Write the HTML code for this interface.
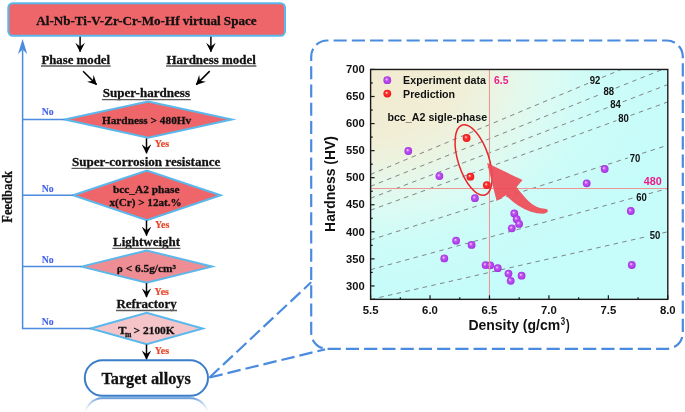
<!DOCTYPE html><html><head><meta charset="utf-8"><title>Alloy design</title><style>html,body{margin:0;padding:0;background:#fff;overflow:hidden;}svg{display:block;will-change:transform;}.sf{font-family:"Liberation Serif",serif;font-weight:bold;}.ss{font-family:"Liberation Sans",sans-serif;font-weight:bold;}</style></head><body><svg width="685" height="412" viewBox="0 0 685 412"><defs><radialGradient id="gp" cx="0.5" cy="0.5" r="0.52" fx="0.38" fy="0.36"><stop offset="0" stop-color="#fcecff"/><stop offset="0.16" stop-color="#e49cf8"/><stop offset="0.38" stop-color="#bc54f0"/><stop offset="0.8" stop-color="#ae3ce9"/><stop offset="1" stop-color="#9a2fd8"/></radialGradient><radialGradient id="gr" cx="0.5" cy="0.5" r="0.52" fx="0.38" fy="0.36"><stop offset="0" stop-color="#ffeeee"/><stop offset="0.16" stop-color="#ff9a9a"/><stop offset="0.38" stop-color="#ff3434"/><stop offset="0.8" stop-color="#f51e1e"/><stop offset="1" stop-color="#e01414"/></radialGradient><radialGradient id="bg" gradientUnits="objectBoundingBox" cx="0" cy="0" r="1" fx="0" fy="0"><stop offset="0" stop-color="#f1ebd0"/><stop offset="0.3" stop-color="#f1eed6"/><stop offset="0.41" stop-color="#ecf3e0"/><stop offset="0.51" stop-color="#e4f8ec"/><stop offset="0.62" stop-color="#dafbf3"/><stop offset="0.76" stop-color="#cdfcf8"/><stop offset="1" stop-color="#c6fcfa"/></radialGradient><marker id="ah" viewBox="0 0 9.4 9.6" refX="9.0" refY="4.8" markerWidth="9.4" markerHeight="9.6" markerUnits="userSpaceOnUse" orient="auto"><path d="M0,0 L9.4,4.8 L0,9.6 L3.7,4.8 Z" fill="#000"/></marker><linearGradient id="refl" gradientUnits="userSpaceOnUse" x1="0" y1="397.5" x2="0" y2="411"><stop offset="0" stop-color="#3a7dc9" stop-opacity="0.85"/><stop offset="0.25" stop-color="#5a95d6" stop-opacity="0.55"/><stop offset="1" stop-color="#9cc4ec" stop-opacity="0.05"/></linearGradient><clipPath id="pc"><rect x="370.6" y="69.45" width="297.19999999999993" height="229.90000000000003"/></clipPath></defs><rect x="8.3" y="3.2" width="276.7" height="32.6" rx="4.5" fill="#ef666a" stroke="#5ab8ec" stroke-width="2"/><text class="sf" x="36.3" y="24.8" font-size="13" fill="#111" stroke="#111" stroke-width="0.28" textLength="220.30" lengthAdjust="spacingAndGlyphs" >Al-Nb-Ti-V-Zr-Cr-Mo-Hf virtual Space</text><line x1="80.1" y1="36.8" x2="80.1" y2="51.8" stroke="#000" stroke-width="1.5" marker-end="url(#ah)"/><line x1="210.9" y1="36.8" x2="210.9" y2="51.8" stroke="#000" stroke-width="1.5" marker-end="url(#ah)"/><text class="sf" x="41.4" y="63.5" font-size="12.8" fill="#111" stroke="#111" stroke-width="0.28" textLength="68.60" lengthAdjust="spacingAndGlyphs" >Phase model</text><line x1="41.0" y1="66.0" x2="110.6" y2="66.0" stroke="#5a5a5a" stroke-width="1.3"/><text class="sf" x="166.4" y="63.5" font-size="12.8" fill="#111" stroke="#111" stroke-width="0.28" textLength="89.40" lengthAdjust="spacingAndGlyphs" >Hardness model</text><line x1="166.0" y1="66.0" x2="256.4" y2="66.0" stroke="#5a5a5a" stroke-width="1.3"/><line x1="83.1" y1="71.2" x2="96.6" y2="84.6" stroke="#000" stroke-width="1.5" marker-end="url(#ah)"/><line x1="209.7" y1="71.1" x2="196.2" y2="84.6" stroke="#000" stroke-width="1.5" marker-end="url(#ah)"/><text class="sf" x="102.7" y="96.8" font-size="12.8" fill="#111" stroke="#111" stroke-width="0.28" textLength="87.30" lengthAdjust="spacingAndGlyphs" >Super-hardness</text><line x1="101.9" y1="99.6" x2="190.8" y2="99.6" stroke="#5a5a5a" stroke-width="1.3"/><polygon points="64.6,119.6 148.2,101.39999999999999 231.79999999999998,119.6 148.2,137.79999999999998" fill="#ef666a" stroke="#5ab8ec" stroke-width="2" stroke-linejoin="miter" stroke-miterlimit="20"/><text class="sf" x="101.9" y="123.6" font-size="11" fill="#111" stroke="#111" stroke-width="0.28" textLength="89.40" lengthAdjust="spacingAndGlyphs" >Hardness &gt; 480Hv</text><line x1="146.5" y1="138.4" x2="146.5" y2="153.3" stroke="#000" stroke-width="1.5" marker-end="url(#ah)"/><text class="sf" x="154.7" y="146.5" font-size="10" fill="#ea3f22" stroke="#ea3f22" stroke-width="0.15" textLength="14.30" lengthAdjust="spacingAndGlyphs" >Yes</text><text class="sf" x="72.0" y="165.9" font-size="12.8" fill="#111" stroke="#111" stroke-width="0.28" textLength="148.30" lengthAdjust="spacingAndGlyphs" >Super-corrosion resistance</text><line x1="71.5" y1="168.4" x2="220.8" y2="168.4" stroke="#5a5a5a" stroke-width="1.3"/><polygon points="73.10000000000001,195.3 146.9,170.5 220.7,195.3 146.9,220.10000000000002" fill="#ef666a" stroke="#5ab8ec" stroke-width="2" stroke-linejoin="miter" stroke-miterlimit="20"/><text class="sf" x="112.9" y="193.2" font-size="11" fill="#111" stroke="#111" stroke-width="0.28" textLength="66.60" lengthAdjust="spacingAndGlyphs" >bcc_A2 phase</text><text class="sf" x="109.4" y="206.1" font-size="11" fill="#111" stroke="#111" stroke-width="0.28" textLength="72.40" lengthAdjust="spacingAndGlyphs" >x(Cr) &gt; 12at.%</text><line x1="146.5" y1="220.6" x2="146.5" y2="235.6" stroke="#000" stroke-width="1.5" marker-end="url(#ah)"/><text class="sf" x="155.0" y="227.9" font-size="10" fill="#ea3f22" stroke="#ea3f22" stroke-width="0.15" textLength="14.30" lengthAdjust="spacingAndGlyphs" >Yes</text><text class="sf" x="113.1" y="246.0" font-size="12.8" fill="#111" stroke="#111" stroke-width="0.28" textLength="66.90" lengthAdjust="spacingAndGlyphs" >Lightweight</text><line x1="112.4" y1="248.4" x2="180.4" y2="248.4" stroke="#5a5a5a" stroke-width="1.3"/><polygon points="81.39999999999999,266.6 146.7,250.50000000000003 212.0,266.6 146.7,282.70000000000005" fill="#ef8d95" stroke="#5ab8ec" stroke-width="2" stroke-linejoin="miter" stroke-miterlimit="20"/><text class="sf" x="116.8" y="272.3" font-size="11.3" fill="#111" stroke="#111" stroke-width="0.28" textLength="59.10" lengthAdjust="spacingAndGlyphs" >ρ &lt; 6.5g/cm³</text><line x1="146.5" y1="283.2" x2="146.5" y2="297.2" stroke="#000" stroke-width="1.5" marker-end="url(#ah)"/><text class="sf" x="154.6" y="294.9" font-size="10" fill="#ea3f22" stroke="#ea3f22" stroke-width="0.15" textLength="14.30" lengthAdjust="spacingAndGlyphs" >Yes</text><text class="sf" x="116.4" y="307.8" font-size="12.8" fill="#111" stroke="#111" stroke-width="0.28" textLength="60.20" lengthAdjust="spacingAndGlyphs" >Refractory</text><line x1="116.0" y1="310.5" x2="177.0" y2="310.5" stroke="#5a5a5a" stroke-width="1.3"/><polygon points="90.69999999999999,328.5 146.7,312.7 202.7,328.5 146.7,344.3" fill="#f4c4c8" stroke="#5ab8ec" stroke-width="2" stroke-linejoin="miter" stroke-miterlimit="20"/><text class="sf" x="118.2" y="333.8" font-size="11.3" fill="#111" stroke="#111" stroke-width="0.28" textLength="8.20" lengthAdjust="spacingAndGlyphs" >T</text><text class="sf" x="125.0" y="337.3" font-size="7.6" fill="#111" stroke="#111" stroke-width="0.28" textLength="6.40" lengthAdjust="spacingAndGlyphs" >m</text><text class="sf" x="133.6" y="333.8" font-size="11.3" fill="#111" stroke="#111" stroke-width="0.28" textLength="41.10" lengthAdjust="spacingAndGlyphs" >&gt; 2100K</text><line x1="146.5" y1="344.6" x2="146.5" y2="359.4" stroke="#000" stroke-width="1.5" marker-end="url(#ah)"/><text class="sf" x="154.8" y="354.2" font-size="10" fill="#ea3f22" stroke="#ea3f22" stroke-width="0.15" textLength="14.30" lengthAdjust="spacingAndGlyphs" >Yes</text><rect x="84.8" y="360.2" width="123.2" height="35.6" rx="17.8" fill="#fff" stroke="#3a7dc9" stroke-width="2"/><text class="sf" x="101.4" y="384.2" font-size="17.2" fill="#111" stroke="#111" stroke-width="0.28" textLength="89.40" lengthAdjust="spacingAndGlyphs" >Target alloys</text><path d="M84.8,416.1 A17.8,17.8 0 0 1 102.6,398.3 L190.2,398.3 A17.8,17.8 0 0 1 208,416.1" fill="none" stroke="url(#refl)" stroke-width="2"/><polyline points="90.9,328.4 22.6,328.4 22.6,50" fill="none" stroke="#4a8be0" stroke-width="1.5"/><path d="M22.6,38.9 L27.2,54.1 L22.6,49.6 L18.0,54.1 Z" fill="#4a8be0"/><line x1="22.6" y1="119.6" x2="64.6" y2="119.6" stroke="#4a8be0" stroke-width="1.5"/><line x1="22.6" y1="195.3" x2="73.1" y2="195.3" stroke="#4a8be0" stroke-width="1.5"/><line x1="22.6" y1="266.6" x2="81.4" y2="266.6" stroke="#4a8be0" stroke-width="1.5"/><text class="sf" x="41.7" y="114.9" font-size="10" fill="#4262ec" stroke="#4262ec" stroke-width="0.1" textLength="12.00" lengthAdjust="spacingAndGlyphs" >No</text><text class="sf" x="41.7" y="192.2" font-size="10" fill="#4262ec" stroke="#4262ec" stroke-width="0.1" textLength="12.00" lengthAdjust="spacingAndGlyphs" >No</text><text class="sf" x="41.7" y="263.1" font-size="10" fill="#4262ec" stroke="#4262ec" stroke-width="0.1" textLength="12.00" lengthAdjust="spacingAndGlyphs" >No</text><text class="sf" x="41.7" y="324.8" font-size="10" fill="#4262ec" stroke="#4262ec" stroke-width="0.1" textLength="12.00" lengthAdjust="spacingAndGlyphs" >No</text><text class="sf" font-size="14" fill="#111" stroke="#111" stroke-width="0.25" textLength="51.8" lengthAdjust="spacingAndGlyphs" transform="translate(11.5,222.8) rotate(-90)">Feedback</text><path d="M311.2,56.5 A16,16 0 0 1 327.2,40.5 L666.8,40.5 A16,16 0 0 1 682.8,56.5 L682.8,332.8 A16,16 0 0 1 666.8,348.8 L327.2,348.8 A16,16 0 0 1 311.2,332.8 Z" fill="none" stroke="#4a8be0" stroke-width="2.2" stroke-dasharray="13.2 5.05" stroke-dashoffset="5.17"/><line x1="209.5" y1="377.5" x2="311.2" y2="282.2" stroke="#4a8be0" stroke-width="2.2" stroke-dasharray="13.5 5"/><line x1="209.5" y1="377.5" x2="325" y2="349.4" stroke="#4a8be0" stroke-width="2.2" stroke-dasharray="13.5 5"/><rect x="370.6" y="69.45" width="297.19999999999993" height="229.90000000000003" fill="url(#bg)"/><g clip-path="url(#pc)"><line x1="370.60" y1="174.44" x2="588.08" y2="83.35" stroke="#777" stroke-width="0.9" stroke-dasharray="4.5 4.4" fill="none"/><line x1="601.92" y1="77.56" x2="621.28" y2="69.45" stroke="#777" stroke-width="0.9" stroke-dasharray="4.5 4.4" fill="none"/><line x1="370.60" y1="186.35" x2="601.84" y2="93.71" stroke="#777" stroke-width="0.9" stroke-dasharray="4.5 4.4" fill="none"/><line x1="615.76" y1="88.13" x2="662.40" y2="69.45" stroke="#777" stroke-width="0.9" stroke-dasharray="4.5 4.4" fill="none"/><line x1="370.60" y1="198.26" x2="608.59" y2="107.24" stroke="#777" stroke-width="0.9" stroke-dasharray="4.5 4.4" fill="none"/><line x1="622.61" y1="101.89" x2="667.80" y2="84.60" stroke="#777" stroke-width="0.9" stroke-dasharray="4.5 4.4" fill="none"/><line x1="370.60" y1="210.16" x2="616.45" y2="120.62" stroke="#777" stroke-width="0.9" stroke-dasharray="4.5 4.4" fill="none"/><line x1="630.55" y1="115.49" x2="667.80" y2="101.92" stroke="#777" stroke-width="0.9" stroke-dasharray="4.5 4.4" fill="none"/><line x1="370.60" y1="239.93" x2="627.85" y2="157.95" stroke="#777" stroke-width="0.9" stroke-dasharray="4.5 4.4" fill="none"/><line x1="642.15" y1="153.39" x2="667.80" y2="145.22" stroke="#777" stroke-width="0.9" stroke-dasharray="4.5 4.4" fill="none"/><line x1="370.60" y1="269.69" x2="634.27" y2="197.67" stroke="#777" stroke-width="0.9" stroke-dasharray="4.5 4.4" fill="none"/><line x1="648.73" y1="193.72" x2="667.80" y2="188.51" stroke="#777" stroke-width="0.9" stroke-dasharray="4.5 4.4" fill="none"/><line x1="370.60" y1="299.46" x2="647.69" y2="236.39" stroke="#777" stroke-width="0.9" stroke-dasharray="4.5 4.4" fill="none"/><line x1="662.31" y1="233.06" x2="667.80" y2="231.81" stroke="#777" stroke-width="0.9" stroke-dasharray="4.5 4.4" fill="none"/></g><text class="ss" x="589.7" y="83.9" font-size="10" fill="#111" textLength="10.60" lengthAdjust="spacingAndGlyphs" >92</text><text class="ss" x="603.5" y="94.8" font-size="10" fill="#111" textLength="10.60" lengthAdjust="spacingAndGlyphs" >88</text><text class="ss" x="610.3000000000001" y="108.10000000000001" font-size="10" fill="#111" textLength="10.60" lengthAdjust="spacingAndGlyphs" >84</text><text class="ss" x="618.2" y="122.0" font-size="10" fill="#111" textLength="10.60" lengthAdjust="spacingAndGlyphs" >80</text><text class="ss" x="629.7" y="161.6" font-size="10" fill="#111" textLength="10.60" lengthAdjust="spacingAndGlyphs" >70</text><text class="ss" x="636.2" y="201.1" font-size="10" fill="#111" textLength="10.60" lengthAdjust="spacingAndGlyphs" >60</text><text class="ss" x="649.7" y="239.2" font-size="10" fill="#111" textLength="10.60" lengthAdjust="spacingAndGlyphs" >50</text><circle cx="408.3" cy="151" r="3.9" fill="url(#gp)"/><circle cx="439.4" cy="176.1" r="3.9" fill="url(#gp)"/><circle cx="474.9" cy="198.2" r="3.9" fill="url(#gp)"/><circle cx="514.3" cy="213.4" r="3.9" fill="url(#gp)"/><circle cx="516.7" cy="219.2" r="3.9" fill="url(#gp)"/><circle cx="519.1" cy="223.9" r="3.9" fill="url(#gp)"/><circle cx="511.8" cy="228.3" r="3.9" fill="url(#gp)"/><circle cx="456.1" cy="240.7" r="3.9" fill="url(#gp)"/><circle cx="471.6" cy="244.9" r="3.9" fill="url(#gp)"/><circle cx="444.3" cy="258.4" r="3.9" fill="url(#gp)"/><circle cx="485.6" cy="265.1" r="3.9" fill="url(#gp)"/><circle cx="490.3" cy="265.3" r="3.9" fill="url(#gp)"/><circle cx="497.8" cy="268.2" r="3.9" fill="url(#gp)"/><circle cx="508.5" cy="273.6" r="3.9" fill="url(#gp)"/><circle cx="521.6" cy="275.7" r="3.9" fill="url(#gp)"/><circle cx="510.7" cy="280.8" r="3.9" fill="url(#gp)"/><circle cx="604.7" cy="169.0" r="3.9" fill="url(#gp)"/><circle cx="586.7" cy="183.3" r="3.9" fill="url(#gp)"/><circle cx="630.8" cy="211.0" r="3.9" fill="url(#gp)"/><circle cx="631.8" cy="265.0" r="3.9" fill="url(#gp)"/><line x1="489.48" y1="69.45" x2="489.48" y2="299.35" stroke="#ee9696" stroke-width="1.1"/><line x1="370.6" y1="188.51" x2="667.8" y2="188.51" stroke="#ee9696" stroke-width="1.1"/><text class="ss" x="494.1" y="84.3" font-size="11" fill="#ec1c8a" textLength="14.40" lengthAdjust="spacingAndGlyphs" >6.5</text><text class="ss" x="643.8" y="184.8" font-size="11" fill="#ec1c8a" textLength="18.00" lengthAdjust="spacingAndGlyphs" >480</text><circle cx="466.6" cy="138.0" r="3.9" fill="url(#gr)"/><circle cx="470.4" cy="176.7" r="3.9" fill="url(#gr)"/><circle cx="486.8" cy="185.1" r="3.9" fill="url(#gr)"/><ellipse cx="473.6" cy="160.0" rx="15.4" ry="36.8" transform="rotate(-18 473.6 160.0)" fill="none" stroke="#e8262a" stroke-width="1.5"/><path d="M487.1,163.1 L522.5,180.1 L516.6,187.1 C520.5,192.5 527,200.5 533,204.8 C538,208 542,208.8 546,208.9 C549,209.6 548.8,213 543.1,213.8 C535,213.6 527,211 518.5,205.8 C514,203 509,198.5 506,195.3 L496.6,200.9 Z" fill="#ef4b56" fill-opacity="0.92"/><circle cx="387.3" cy="80.2" r="3.9" fill="url(#gp)"/><circle cx="387.3" cy="93.6" r="3.9" fill="url(#gr)"/><text class="ss" x="403.1" y="84.0" font-size="10.4" fill="#111" textLength="82.90" lengthAdjust="spacingAndGlyphs" >Experiment data</text><text class="ss" x="403.1" y="97.5" font-size="10.4" fill="#111" textLength="52.00" lengthAdjust="spacingAndGlyphs" >Prediction</text><text class="ss" x="387.4" y="121.1" font-size="10.6" fill="#111" textLength="99.80" lengthAdjust="spacingAndGlyphs" >bcc_A2 sigle-phase</text><rect x="370.6" y="69.45" width="297.19999999999993" height="229.90000000000003" fill="none" stroke="#1a1a1a" stroke-width="1.4"/><line x1="370.60" y1="299.35" x2="370.60" y2="295.35" stroke="#1a1a1a" stroke-width="1.2"/><text class="ss" x="362.70000000000005" y="313.7" font-size="11.3" fill="#111" textLength="15.80" lengthAdjust="spacingAndGlyphs" >5.5</text><line x1="400.32" y1="299.35" x2="400.32" y2="297.15000000000003" stroke="#1a1a1a" stroke-width="1.2"/><line x1="430.04" y1="299.35" x2="430.04" y2="295.35" stroke="#1a1a1a" stroke-width="1.2"/><text class="ss" x="422.14000000000004" y="313.7" font-size="11.3" fill="#111" textLength="15.80" lengthAdjust="spacingAndGlyphs" >6.0</text><line x1="459.76" y1="299.35" x2="459.76" y2="297.15000000000003" stroke="#1a1a1a" stroke-width="1.2"/><line x1="489.48" y1="299.35" x2="489.48" y2="295.35" stroke="#1a1a1a" stroke-width="1.2"/><text class="ss" x="481.58000000000004" y="313.7" font-size="11.3" fill="#111" textLength="15.80" lengthAdjust="spacingAndGlyphs" >6.5</text><line x1="519.20" y1="299.35" x2="519.20" y2="297.15000000000003" stroke="#1a1a1a" stroke-width="1.2"/><line x1="548.92" y1="299.35" x2="548.92" y2="295.35" stroke="#1a1a1a" stroke-width="1.2"/><text class="ss" x="541.02" y="313.7" font-size="11.3" fill="#111" textLength="15.80" lengthAdjust="spacingAndGlyphs" >7.0</text><line x1="578.64" y1="299.35" x2="578.64" y2="297.15000000000003" stroke="#1a1a1a" stroke-width="1.2"/><line x1="608.36" y1="299.35" x2="608.36" y2="295.35" stroke="#1a1a1a" stroke-width="1.2"/><text class="ss" x="600.4599999999999" y="313.7" font-size="11.3" fill="#111" textLength="15.80" lengthAdjust="spacingAndGlyphs" >7.5</text><line x1="638.08" y1="299.35" x2="638.08" y2="297.15000000000003" stroke="#1a1a1a" stroke-width="1.2"/><line x1="667.80" y1="299.35" x2="667.80" y2="295.35" stroke="#1a1a1a" stroke-width="1.2"/><text class="ss" x="659.9" y="313.7" font-size="11.3" fill="#111" textLength="15.80" lengthAdjust="spacingAndGlyphs" >8.0</text><line x1="370.6" y1="285.93" x2="374.6" y2="285.93" stroke="#1a1a1a" stroke-width="1.2"/><text class="ss" x="346.0" y="289.63" font-size="11.3" fill="#111" textLength="18.70" lengthAdjust="spacingAndGlyphs" >300</text><line x1="370.6" y1="258.87" x2="374.6" y2="258.87" stroke="#1a1a1a" stroke-width="1.2"/><text class="ss" x="346.0" y="262.57" font-size="11.3" fill="#111" textLength="18.70" lengthAdjust="spacingAndGlyphs" >350</text><line x1="370.6" y1="272.40" x2="372.8" y2="272.40" stroke="#1a1a1a" stroke-width="1.2"/><line x1="370.6" y1="231.81" x2="374.6" y2="231.81" stroke="#1a1a1a" stroke-width="1.2"/><text class="ss" x="346.0" y="235.51" font-size="11.3" fill="#111" textLength="18.70" lengthAdjust="spacingAndGlyphs" >400</text><line x1="370.6" y1="245.34" x2="372.8" y2="245.34" stroke="#1a1a1a" stroke-width="1.2"/><line x1="370.6" y1="204.75" x2="374.6" y2="204.75" stroke="#1a1a1a" stroke-width="1.2"/><text class="ss" x="346.0" y="208.45" font-size="11.3" fill="#111" textLength="18.70" lengthAdjust="spacingAndGlyphs" >450</text><line x1="370.6" y1="218.28" x2="372.8" y2="218.28" stroke="#1a1a1a" stroke-width="1.2"/><line x1="370.6" y1="177.69" x2="374.6" y2="177.69" stroke="#1a1a1a" stroke-width="1.2"/><text class="ss" x="346.0" y="181.39" font-size="11.3" fill="#111" textLength="18.70" lengthAdjust="spacingAndGlyphs" >500</text><line x1="370.6" y1="191.22" x2="372.8" y2="191.22" stroke="#1a1a1a" stroke-width="1.2"/><line x1="370.6" y1="150.63" x2="374.6" y2="150.63" stroke="#1a1a1a" stroke-width="1.2"/><text class="ss" x="346.0" y="154.33" font-size="11.3" fill="#111" textLength="18.70" lengthAdjust="spacingAndGlyphs" >550</text><line x1="370.6" y1="164.16" x2="372.8" y2="164.16" stroke="#1a1a1a" stroke-width="1.2"/><line x1="370.6" y1="123.57" x2="374.6" y2="123.57" stroke="#1a1a1a" stroke-width="1.2"/><text class="ss" x="346.0" y="127.27" font-size="11.3" fill="#111" textLength="18.70" lengthAdjust="spacingAndGlyphs" >600</text><line x1="370.6" y1="137.10" x2="372.8" y2="137.10" stroke="#1a1a1a" stroke-width="1.2"/><line x1="370.6" y1="96.51" x2="374.6" y2="96.51" stroke="#1a1a1a" stroke-width="1.2"/><text class="ss" x="346.0" y="100.21" font-size="11.3" fill="#111" textLength="18.70" lengthAdjust="spacingAndGlyphs" >650</text><line x1="370.6" y1="110.04" x2="372.8" y2="110.04" stroke="#1a1a1a" stroke-width="1.2"/><line x1="370.6" y1="69.45" x2="374.6" y2="69.45" stroke="#1a1a1a" stroke-width="1.2"/><text class="ss" x="346.0" y="73.15" font-size="11.3" fill="#111" textLength="18.70" lengthAdjust="spacingAndGlyphs" >700</text><line x1="370.6" y1="82.98" x2="372.8" y2="82.98" stroke="#1a1a1a" stroke-width="1.2"/><text class="ss" x="468.4" y="329.5" font-size="14" fill="#111" textLength="91.80" lengthAdjust="spacingAndGlyphs" >Density (g/cm</text><text class="ss" x="560.7" y="325.2" font-size="10" fill="#111" textLength="4.40" lengthAdjust="spacingAndGlyphs" >3</text><text class="ss" x="566.0" y="329.5" font-size="14" fill="#111" textLength="3.70" lengthAdjust="spacingAndGlyphs" >)</text><text class="ss" font-size="14" fill="#111" textLength="95.8" lengthAdjust="spacingAndGlyphs" transform="translate(335.3,231.9) rotate(-90)">Hardness (HV)</text></svg></body></html>
